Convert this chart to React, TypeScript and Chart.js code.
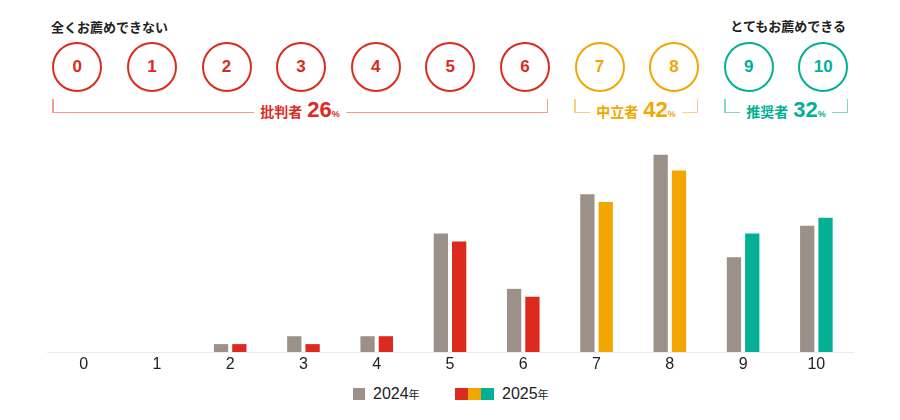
import { useEffect, useRef } from "react";
import { Chart, registerables } from "chart.js";

Chart.register(...registerables);

const scores = ["0", "1", "2", "3", "4", "5", "6", "7", "8", "9", "10"];
const year2024 = [0, 0, 1, 2, 2, 15, 8, 20, 25, 12, 16];
const year2025 = [0, 0, 1, 1, 2, 14, 7, 19, 23, 15, 17];
const groupOf = ["d", "d", "d", "d", "d", "d", "d", "n", "n", "p", "p"];
const seriesLabels = ["2024", "2025"];

const GRAY = "#9c9188";
const RED = "#dc2a1f";
const ORANGE = "#f1a700";
const TEAL = "#03b095";
const COLORS: Record<string, { main: string; light: string }> = {
  d: { main: RED, light: "#ef9b96" },
  n: { main: ORANGE, light: "#f8cf82" },
  p: { main: TEAL, light: "#84d6c8" },
};
const groups = [
  { key: "d", name: "批判者", pct: "26", left: 52, right: 548 },
  { key: "n", name: "中立者", pct: "42", left: 574, right: 698 },
  { key: "p", name: "推奨者", pct: "32", left: 724, right: 848 },
];

const JP = "'Noto Sans CJK JP', 'Noto Sans', sans-serif";
const NUM = "'Liberation Sans', Arial, sans-serif";

function Bracket({ g }: { g: (typeof groups)[number] }) {
  const c = COLORS[g.key];
  return (
    <div style={{ position: "absolute", left: g.left, top: 99, width: g.right - g.left, height: 24 }}>
      <div style={{ position: "absolute", left: 0, top: 0, width: 1.5, height: 14, background: c.light }} />
      <div style={{ position: "absolute", right: 0, top: 0, width: 1.5, height: 14, background: c.light }} />
      <div style={{ position: "absolute", left: 0, right: 0, top: 12.5, height: 1.5, background: c.light }} />
      <div
        style={{
          position: "absolute", left: "50%", top: -1, transform: "translateX(-50%)",
          background: "#fff", padding: "0 6px", whiteSpace: "nowrap", color: c.main,
          display: "flex", alignItems: "baseline", height: 24, lineHeight: "24px",
        }}
      >
        <span style={{ fontFamily: JP, fontWeight: 700, fontSize: 14, marginRight: 5 }}>{g.name}</span>
        <span style={{ fontFamily: NUM, fontWeight: 700, fontSize: 22 }}>{g.pct}</span>
        <span style={{ fontFamily: NUM, fontWeight: 700, fontSize: 9 }}>%</span>
      </div>
    </div>
  );
}

export default function App() {
  const ref = useRef<HTMLCanvasElement>(null);

  useEffect(() => {
    if (!ref.current) return;
    const chart = new Chart(ref.current, {
      type: "bar",
      data: {
        labels: scores,
        datasets: [
          { label: seriesLabels[0], data: year2024, backgroundColor: GRAY, categoryPercentage: 0.5, barPercentage: 0.78 },
          {
            label: seriesLabels[1], data: year2025,
            backgroundColor: groupOf.map((k) => COLORS[k].main),
            categoryPercentage: 0.5, barPercentage: 0.78,
          },
        ],
      },
      options: {
        animation: false, responsive: false,
        layout: { padding: { top: 5, left: 47, right: 47, bottom: 0 } },
        plugins: { legend: { display: false }, tooltip: { enabled: false } },
        scales: {
          x: {
            grid: { display: false, drawTicks: false },
            border: { display: true, color: "#ececec", width: 1 },
            ticks: { font: { family: NUM, size: 16 }, color: "#222", padding: 3 },
            afterFit: (axis) => { axis.height = 24; },
          },
          y: { display: false, min: 0, max: 28 },
        },
      },
    });
    return () => chart.destroy();
  }, []);

  return (
    <div style={{ position: "absolute", left: 0, top: 0, width: 900, height: 420, background: "#fff", overflow: "hidden" }}>
      <div style={{ position: "absolute", left: 51, top: 17, fontFamily: JP, fontWeight: 700, fontSize: 13, color: "#222", lineHeight: "20px" }}>
        全くお薦めできない
      </div>
      <div style={{ position: "absolute", right: 54, top: 16, fontFamily: JP, fontWeight: 700, fontSize: 13, color: "#222", lineHeight: "20px" }}>
        とてもお薦めできる
      </div>
      {scores.map((s, i) => {
        const c = COLORS[groupOf[i]].main;
        return (
          <div
            key={s}
            style={{
              position: "absolute", left: 77.3 + i * 74.6 - 25, top: 42, width: 50, height: 50,
              boxSizing: "border-box", border: `2px solid ${c}`, borderRadius: "50%",
              display: "flex", alignItems: "center", justifyContent: "center",
              color: c, fontFamily: NUM, fontWeight: 700, fontSize: 17,
            }}
          >
            {s}
          </div>
        );
      })}
      {groups.map((g) => <Bracket key={g.key} g={g} />)}
      <canvas ref={ref} width={900} height={250} style={{ position: "absolute", left: 0, top: 126 }} />
      <div style={{ position: "absolute", left: 353, top: 388, width: 12, height: 12, background: GRAY }} />
      <div style={{ position: "absolute", left: 373, top: 384, fontFamily: NUM, fontSize: 16, color: "#222", lineHeight: "20px" }}>
        {seriesLabels[0]}<span style={{ fontFamily: JP, fontSize: 11 }}>年</span>
      </div>
      <div style={{ position: "absolute", left: 455, top: 388, height: 12, display: "flex" }}>
        <div style={{ width: 13, height: 12, background: RED }} />
        <div style={{ width: 13, height: 12, background: ORANGE }} />
        <div style={{ width: 13, height: 12, background: TEAL }} />
      </div>
      <div style={{ position: "absolute", left: 502, top: 384, fontFamily: NUM, fontSize: 16, color: "#222", lineHeight: "20px" }}>
        {seriesLabels[1]}<span style={{ fontFamily: JP, fontSize: 11 }}>年</span>
      </div>
    </div>
  );
}
